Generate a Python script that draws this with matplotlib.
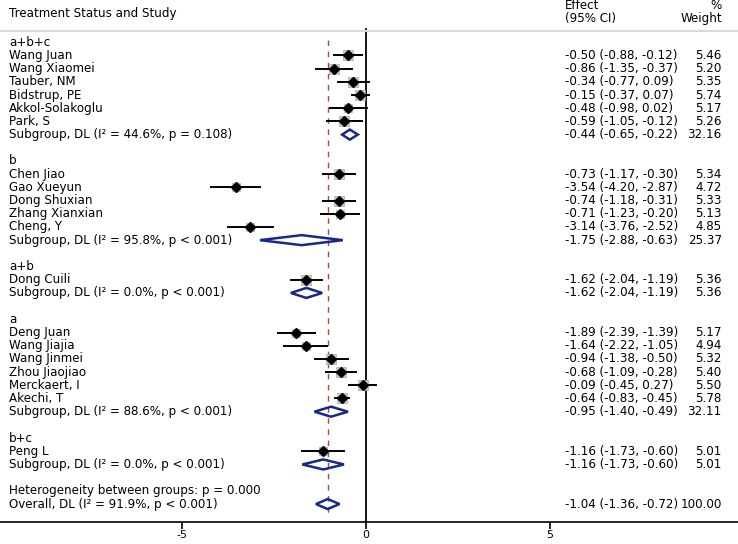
import matplotlib.pyplot as plt
from matplotlib.patches import Polygon

plt.rcParams['font.family'] = ['DejaVu Sans']
plt.rcParams['axes.unicode_minus'] = False

groups = ["a+b+c", "b", "a+b", "a", "b+c"]
studies = [
    ["Wang Juan", "Wang Xiaomei", "Tauber, NM", "Bidstrup, PE", "Akkol-Solakoglu", "Park, S"],
    ["Chen Jiao", "Gao Xueyun", "Dong Shuxian", "Zhang Xianxian", "Cheng, Y"],
    ["Dong Cuili"],
    ["Deng Juan", "Wang Jiajia", "Wang Jinmei", "Zhou Jiaojiao", "Merckaert, I", "Akechi, T"],
    ["Peng L"],
]
effects = [
    [-0.50, -0.86, -0.34, -0.15, -0.48, -0.59],
    [-0.73, -3.54, -0.74, -0.71, -3.14],
    [-1.62],
    [-1.89, -1.64, -0.94, -0.68, -0.09, -0.64],
    [-1.16],
]
lower = [
    [-0.88, -1.35, -0.77, -0.37, -0.98, -1.05],
    [-1.17, -4.20, -1.18, -1.23, -3.76],
    [-2.04],
    [-2.39, -2.22, -1.38, -1.09, -0.45, -0.83],
    [-1.73],
]
upper = [
    [-0.12, -0.37, 0.09, 0.07, 0.02, -0.12],
    [-0.30, -2.87, -0.31, -0.20, -2.52],
    [-1.19],
    [-1.39, -1.05, -0.50, -0.28, 0.27, -0.45],
    [-0.60],
]
weights = [
    [5.46, 5.20, 5.35, 5.74, 5.17, 5.26],
    [5.34, 4.72, 5.33, 5.13, 4.85],
    [5.36],
    [5.17, 4.94, 5.32, 5.40, 5.50, 5.78],
    [5.01],
]
sub_labels = [
    "Subgroup, DL (I\u00b2 = 44.6%, p = 0.108)",
    "Subgroup, DL (I\u00b2 = 95.8%, p < 0.001)",
    "Subgroup, DL (I\u00b2 = 0.0%, p < 0.001)",
    "Subgroup, DL (I\u00b2 = 88.6%, p < 0.001)",
    "Subgroup, DL (I\u00b2 = 0.0%, p < 0.001)",
]
sub_eff = [-0.44, -1.75, -1.62, -0.95, -1.16]
sub_lo = [-0.65, -2.88, -2.04, -1.40, -1.73]
sub_hi = [-0.22, -0.63, -1.19, -0.49, -0.60]
sub_w = [32.16, 25.37, 5.36, 32.11, 5.01]
overall = (-1.04, -1.36, -0.72, 100.00)
overall_label = "Overall, DL (I\u00b2 = 91.9%, p < 0.001)"
het_label = "Heterogeneity between groups: p = 0.000"

navy = '#16288a'
fs = 8.6
x_txt = -9.7
x_eff = 5.41
x_w = 9.67

fig = plt.figure(figsize=(7.38, 5.44), dpi=100)
ax = fig.add_axes([0, 22 / 544, 1, 522 / 544])
ax.set_xlim(-9.946, 10.11)
ax.set_ylim(36.36, -3.2)


def diamond(ax, est, lo, hi, y, h=0.38):
    p = Polygon([[lo, y], [est, y - h], [hi, y], [est, y + h]], closed=True,
                fill=False, edgecolor=navy, lw=1.8, zorder=4)
    ax.add_patch(p)


def stat_text(y, est, lo, hi, w):
    ax.text(x_eff, y, f"{est:.2f} ({lo:.2f}, {hi:.2f})", fontsize=fs, va='center', ha='left')
    ax.text(x_w, y, f"{w:.2f}", fontsize=fs, va='center', ha='right')


row = 0
for g in range(len(groups)):
    ax.text(x_txt, row, groups[g], fontsize=fs, va='center')
    row += 1
    for i in range(len(studies[g])):
        e, lo, hi, w = effects[g][i], lower[g][i], upper[g][i], weights[g][i]
        ax.text(x_txt, row, studies[g][i], fontsize=fs, va='center')
        ax.plot([lo, hi], [row, row], color='black', lw=1.4, zorder=3)
        ax.plot(e, row, marker='s', ms=w * 1.25, color='#cccccc', mec='#a8a8a8', mew=0.5, zorder=2)
        ax.plot(e, row, marker='D', ms=5.5, color='black', zorder=4)
        stat_text(row, e, lo, hi, w)
        row += 1
    ax.text(x_txt, row, sub_labels[g], fontsize=fs, va='center')
    diamond(ax, sub_eff[g], sub_lo[g], sub_hi[g], row)
    stat_text(row, sub_eff[g], sub_lo[g], sub_hi[g], sub_w[g])
    row += 2

ax.text(x_txt, row, het_label, fontsize=fs, va='center')
row += 1
ax.text(x_txt, row, overall_label, fontsize=fs, va='center')
diamond(ax, overall[0], overall[1], overall[2], row)
stat_text(row, *overall)

# header
ax.text(x_txt, -2.2, "Treatment Status and Study", fontsize=fs, va='center')
ax.text(x_eff, -2.82, "Effect", fontsize=fs, va='center')
ax.text(x_eff, -1.82, "(95% CI)", fontsize=fs, va='center')
ax.text(x_w, -2.82, "%", fontsize=fs, va='center', ha='right')
ax.text(x_w, -1.82, "Weight", fontsize=fs, va='center', ha='right')
ax.plot([-9.946, 10.11], [-0.83, -0.83], color='#d8d8d8', lw=1.5, clip_on=False)

# reference lines
ax.plot([0, 0], [-0.98, 36.36], color='black', lw=1.3, zorder=1)
ax.plot([overall[0], overall[0]], [-0.2, 35.8], color='#a0503a', lw=1, ls=(0, (4, 4)), zorder=1)

for s in ['top', 'left', 'right']:
    ax.spines[s].set_visible(False)
ax.spines['bottom'].set_linewidth(1.2)
ax.set_yticks([])
ax.set_xticks([-5, 0, 5])
ax.tick_params(axis='x', direction='out', length=5, width=1.2, labelsize=8, pad=0.5)

fig.savefig('out.png', dpi=100)
